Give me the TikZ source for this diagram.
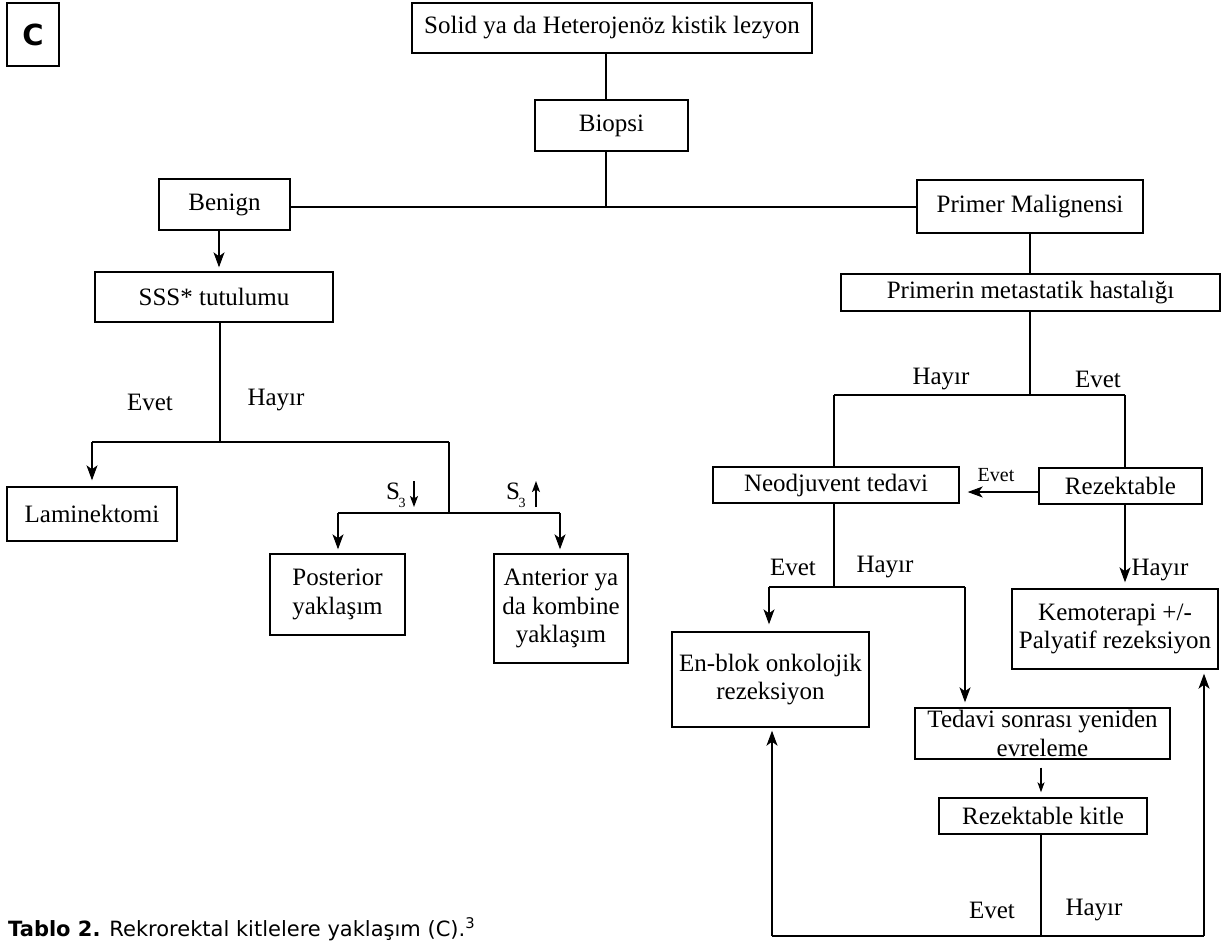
\documentclass[tikz,border=0pt]{standalone}
\usepackage{fontspec}
\setmainfont{Liberation Serif}
\newfontfamily\capfont{DejaVu Sans}
\usetikzlibrary{arrows.meta}
\begin{document}
\begin{tikzpicture}[x=1pt,y=-1pt,
  box/.style={draw, line width=1.4pt, inner sep=0pt, align=center, font=\fontsize{25}{28.5}\selectfont},
  wh/.style 2 args={minimum width=#1pt, minimum height=#2pt},
  lbl/.style={inner sep=0pt, font=\fontsize{25}{28}\selectfont},
  slbl/.style={inner sep=0pt, font=\fontsize{20}{22}\selectfont},
  sub/.style={inner sep=0pt, font=\fontsize{14}{14}\selectfont},
  conn/.style={line width=1.1pt},
  arr/.style={conn, -{Stealth[length=15pt,width=11pt,inset=4pt]}},
  sarr/.style={line width=1.3pt, -{Stealth[length=11pt,width=8pt,inset=2.5pt]}},
  tarr/.style={conn, -{Stealth[length=10pt,width=7pt,inset=2.5pt]}},
]
\useasboundingbox (0,0) rectangle (1222,940);

% ---- nodes ----
\node[draw, line width=1.2pt, wh={52}{63}, inner sep=0pt, font=\capfont\bfseries\fontsize{29}{29}\selectfont] (cbox) at (33,34.5) {C};
\node[box, wh={400}{50}] (solid) at (612,28) {Solid ya da Heterojenöz kistik lezyon};
\node[box, wh={153}{51}] (biopsi) at (611.5,125.5) {Biopsi};
\node[box, wh={131}{51}] (benign) at (224.5,204.5) {Benign};
\node[box, wh={226}{53}] (pm) at (1030,206.5) {Primer Malignensi};
\node[box, wh={238}{50}] (sss) at (214,297) {SSS* tutulumu};
\node[box, wh={170}{54}] (lam) at (92,514) {Laminektomi};
\node[box, wh={135}{81}] (post) at (337.5,594.5) {Posterior\\yaklaşım};
\node[box, wh={134}{109}] (ant) at (561,608.5) {Anterior ya\\da kombine\\yaklaşım};
\node[box, wh={379}{37}] (primerin) at (1030.5,292.5) {Primerin metastatik hastalığı};
\node[box, wh={246}{36}] (neo) at (836,485) {Neodjuvent tedavi};
\node[box, wh={163}{36}] (rez) at (1120.5,486) {Rezektable};
\node[box, wh={197}{95}] (enblok) at (770.5,679.5) {En-blok onkolojik\\rezeksiyon};
\node[box, wh={206}{80}] (kemo) at (1115,629) {Kemoterapi +/-\\Palyatif rezeksiyon};
\node[box, wh={255}{51}] (tedavi) at (1042.5,733.5) {Tedavi sonrası yeniden\\evreleme};
\node[box, wh={208}{36}] (rkitle) at (1043,816) {Rezektable kitle};

% ---- top ----
\coordinate (j1) at (606,207);
\draw[conn] (solid.south -| j1) -- (biopsi.north -| j1);
\draw[conn] (biopsi.south -| j1) -- (j1);
\draw[conn] (benign.east |- j1) -- (pm.west |- j1);

% ---- left branch ----
\coordinate (b1) at (219,0);
\draw[arr, shorten >=4pt] (benign.south -| b1) -- (sss.north -| b1);
\coordinate (j2) at (220,442);
\coordinate (j2l) at (92,442);
\coordinate (j2r) at (449,442);
\draw[conn] (sss.south -| j2) -- (j2);
\draw[conn] (j2l) -- (j2r);
\draw[arr, shorten >=6pt] (j2l) -- (lam.north -| j2l);
\node[lbl] (ev1) at (150,402) {Evet};
\node[lbl] (hy1) at (276,400) {Hayır};
\coordinate (j3) at (449,513);
\coordinate (j3l) at (338,513);
\coordinate (j3r) at (560,513);
\draw[conn] (j2r) -- (j3);
\draw[conn] (j3l) -- (j3r);
\draw[arr, shorten >=4pt] (j3l) -- (post.north -| j3l);
\draw[arr, shorten >=4pt] (j3r) -- (ant.north -| j3r);
\node[lbl] (s3a) at (393,491) {S};
\node[sub] (s3an) at (402,503) {3};
\coordinate (da1) at (414,481);
\coordinate (da2) at (414,507);
\draw[sarr] (da1) -- (da2);
\node[lbl] (s3b) at (513,491) {S};
\node[sub] (s3bn) at (522,503) {3};
\coordinate (ua1) at (536,507);
\coordinate (ua2) at (536,481);
\draw[sarr] (ua1) -- (ua2);

% ---- right branch ----
\coordinate (j4) at (1030,395);
\coordinate (j4l) at (834,395);
\coordinate (j4r) at (1125,395);
\draw[conn] (pm.south -| j4) -- (primerin.north -| j4);
\draw[conn] (primerin.south -| j4) -- (j4);
\draw[conn] (j4l) -- (j4r);
\draw[conn] (j4l) -- (neo.north -| j4l);
\draw[conn] (j4r) -- (rez.north -| j4r);
\node[lbl] (hy2) at (941,379) {Hayır};
\node[lbl] (ev2) at (1098,379) {Evet};

\coordinate (e1) at (0,492);
\draw[arr, shorten >=8pt] (rez.west |- e1) -- (neo.east |- e1);
\node[slbl] (ev3) at (996,475) {Evet};

\coordinate (j5) at (834,587);
\coordinate (j5l) at (769,587);
\coordinate (j5r) at (965,587);
\draw[conn] (neo.south -| j5) -- (j5);
\draw[conn] (j5l) -- (j5r);
\draw[arr, shorten >=7pt] (j5l) -- (enblok.north -| j5l);
\draw[arr, shorten >=5pt] (j5r) -- (tedavi.north -| j5r);
\node[lbl] (ev4) at (793,567) {Evet};
\node[lbl] (hy4) at (885,567) {Hayır};

\draw[arr, shorten >=6pt] (rez.south -| j4r) -- (kemo.north -| j4r);
\node[lbl] (hy5) at (1160,570) {Hayır};

\coordinate (t1) at (1041,0);
\draw[tarr, shorten <=8pt, shorten >=5pt] (tedavi.south -| t1) -- (rkitle.north -| t1);
\coordinate (j6) at (1041,936);
\coordinate (j6l) at (772,936);
\coordinate (j6r) at (1204,936);
\draw[conn] (rkitle.south -| j6) -- (j6);
\draw[conn] (j6l) -- (j6r);
\draw[arr, shorten >=3pt] (j6l) -- (enblok.south -| j6l);
\draw[arr, shorten >=4pt] (j6r) -- (kemo.south -| j6r);
\node[lbl] (ev6) at (992,910) {Evet};
\node[lbl] (hy6) at (1094,910) {Hayır};

% ---- caption ----
\node[anchor=base west, inner sep=0pt, font=\capfont\fontsize{21}{22}\selectfont] (cap) at (8,936) {\textbf{Tablo 2.} Rekrorektal kitlelere yaklaşım (C).\textsuperscript{3}};
\end{tikzpicture}
\end{document}
